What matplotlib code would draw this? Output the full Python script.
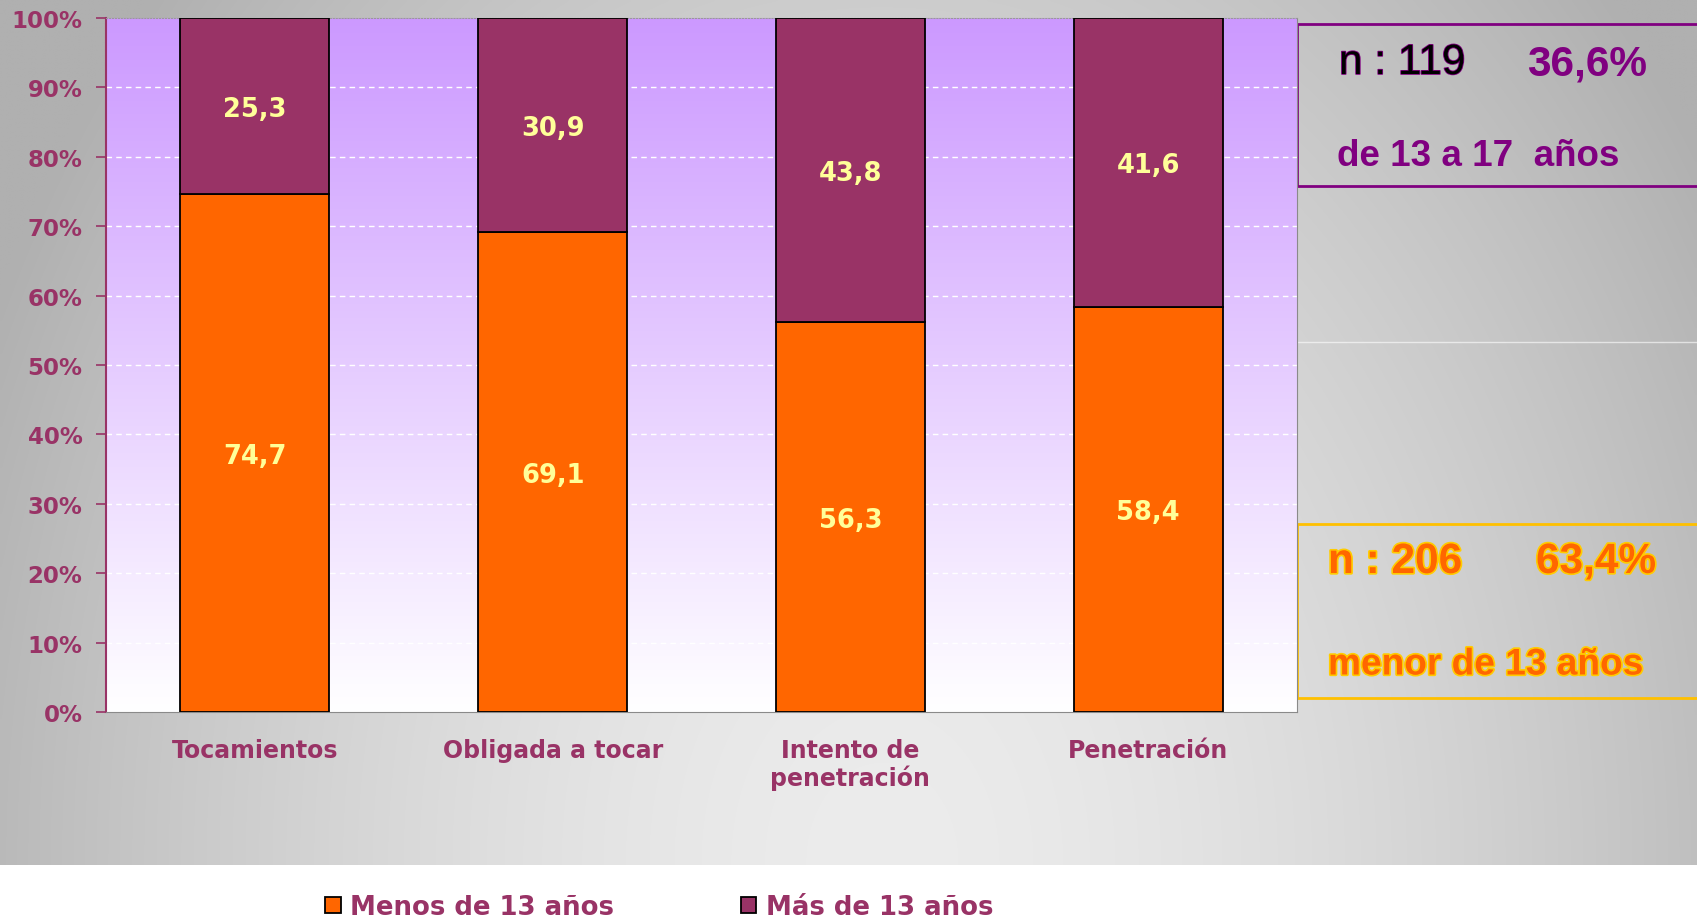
import numpy as np
import matplotlib
matplotlib.use("Agg")
import matplotlib.pyplot as plt
from matplotlib.patches import Rectangle
import matplotlib.patheffects as pe

# ---- data ----
categories = ['Tocamientos', 'Obligada a tocar', 'Intento de\npenetración', 'Penetración']
menos_13 = [74.7, 69.1, 56.3, 58.4]
mas_13 = [25.3, 30.9, 43.8, 41.6]
series_names = ['Menos de 13 años', 'Más de 13 años']
y_ticks = [0, 10, 20, 30, 40, 50, 60, 70, 80, 90, 100]
y_tick_labels = [f'{v}%' for v in y_ticks]

W, H = 1697, 920
fig = plt.figure(figsize=(W / 100, H / 100), dpi=100)
fig.patch.set_facecolor('white')

# ---- background (pixel coordinates) ----
bg = fig.add_axes([0, 0, 1, 1], zorder=-10)
bg.set_xlim(0, W)
bg.set_ylim(H, 0)
bg.axis('off')
gx = np.linspace(0, 1, 400)
gy = np.linspace(0, 1, 200)
X, Y = np.meshgrid(gx, gy)
r = np.sqrt(((X - 0.52) / 0.58) ** 2 + ((Y - 1.0) / 1.5) ** 2)
c = 236 - 60 * np.clip(r, 0, 1) ** 1.6
img = np.dstack([c, c, c]) / 255.0
bg.imshow(img, extent=(0, W, 866, 0), aspect='auto', interpolation='bilinear')
bg.plot([1297, W], [343, 343], color='white', lw=1, alpha=0.6)

# ---- main axes ----
L, R, T, B = 106, 1297, 19, 713
ax = fig.add_axes([L / W, 1 - B / H, (R - L) / W, (B - T) / H])
ax.set_xlim(-0.5, 3.5)
ax.set_ylim(0, 100)

# plot area gradient purple -> white
grad = np.linspace(0, 1, 256).reshape(-1, 1)
top = np.array([204, 153, 255]) / 255.0
white = np.array([1.0, 1.0, 1.0])
pimg = white[None, None, :] * (1 - grad[..., None]) + top[None, None, :] * grad[..., None]
ax.imshow(pimg, extent=(-0.5, 3.5, 0, 100), origin='lower', aspect='auto', zorder=0)

for v in y_ticks[1:-1]:
    ax.axhline(v, color='white', lw=1, ls=(0, (4, 3)), zorder=1)

tot = np.array(menos_13) + np.array(mas_13)
m1 = np.array(menos_13) / tot * 100
m2 = np.array(mas_13) / tot * 100
x = np.arange(len(categories))
b1 = ax.bar(x, m1, width=0.5, color='#ff6600', edgecolor='black', lw=1.3, zorder=3,
            label=series_names[0])
b2 = ax.bar(x, m2, bottom=m1, width=0.5, color='#993366', edgecolor='black', lw=1.3, zorder=3,
            label=series_names[1])

for i in range(len(categories)):
    ax.text(x[i], m1[i] / 2, f'{menos_13[i]:.1f}'.replace('.', ','), ha='center',
            va='center_baseline', color='#ffff99', fontsize=18.5, fontweight='bold',
            family='DejaVu Sans', zorder=5)
    ax.text(x[i], m1[i] + m2[i] / 2, f'{mas_13[i]:.1f}'.replace('.', ','), ha='center',
            va='center_baseline', color='#ffff99', fontsize=18.5, fontweight='bold',
            family='DejaVu Sans', zorder=5)

ax.set_yticks(y_ticks)
ax.set_yticklabels(y_tick_labels)
ax.set_xticks(x)
ax.set_xticklabels(categories)
for lab in ax.get_yticklabels():
    lab.set_color('#993366'); lab.set_fontweight('bold'); lab.set_fontsize(16.5)
    lab.set_family('DejaVu Sans')
for lab in ax.get_xticklabels():
    lab.set_color('#993366'); lab.set_fontweight('bold'); lab.set_fontsize(17)
    lab.set_family('DejaVu Sans'); lab.set_linespacing(1.12)
ax.tick_params(axis='y', color='#993366', length=7, width=1.2, pad=10)
ax.tick_params(axis='x', length=0, pad=19)
ax.spines['left'].set_color('#993366')
ax.spines['left'].set_linewidth(1.5)
ax.spines['bottom'].set_color('#8a8a8a')
ax.spines['right'].set_color('#8a8a8a')
ax.spines['top'].set_color('#9a9a9a')
ax.spines['top'].set_linestyle(':')

# ---- right side boxes ----
bg.add_patch(Rectangle((1297, 25), 420, 162, fill=False, edgecolor='#800080', lw=2, zorder=2))
bg.add_patch(Rectangle((1297, 525), 420, 174, fill=False, edgecolor='#ffc000', lw=2, zorder=2))

stroke_p = [pe.withStroke(linewidth=1.2, foreground='#800080')]
stroke_o = [pe.withStroke(linewidth=2.4, foreground='#ffcc00')]
bg.text(1339, 64, 'n : 119', fontsize=30.5, color='black', family='Liberation Sans',
        ha='left', va='center', path_effects=stroke_p)
bg.text(1527, 64, '36,6%', fontsize=30.5, color='#800080', family='Liberation Sans',
        fontweight='bold', ha='left', va='center')
bg.text(1337, 156, 'de 13 a 17  años', fontsize=26.5, color='#800080', family='Liberation Sans',
        fontweight='bold', ha='left', va='center')
bg.text(1328, 563, 'n : 206', fontsize=30.5, color='#ff6600', family='Liberation Sans',
        fontweight='bold', ha='left', va='center', path_effects=stroke_o)
bg.text(1536, 563, '63,4%', fontsize=30.5, color='#ff6600', family='Liberation Sans',
        fontweight='bold', ha='left', va='center', path_effects=stroke_o)
bg.text(1328, 666, 'menor de 13 años', fontsize=26.7, color='#ff6600', family='Liberation Sans',
        fontweight='bold', ha='left', va='center', path_effects=stroke_o)

# ---- legend ----
leg = fig.legend(handles=[b1, b2], labels=series_names, loc='center',
                 bbox_to_anchor=(659 / W, 1 - 908 / H), ncol=2, frameon=False,
                 handlelength=0.6, handleheight=0.6, handletextpad=0.35, columnspacing=4.9,
                 prop={'family': 'DejaVu Sans', 'weight': 'bold', 'size': 18.7})
for t in leg.get_texts():
    t.set_color('#993366')

fig.savefig('out.png', dpi=100)
